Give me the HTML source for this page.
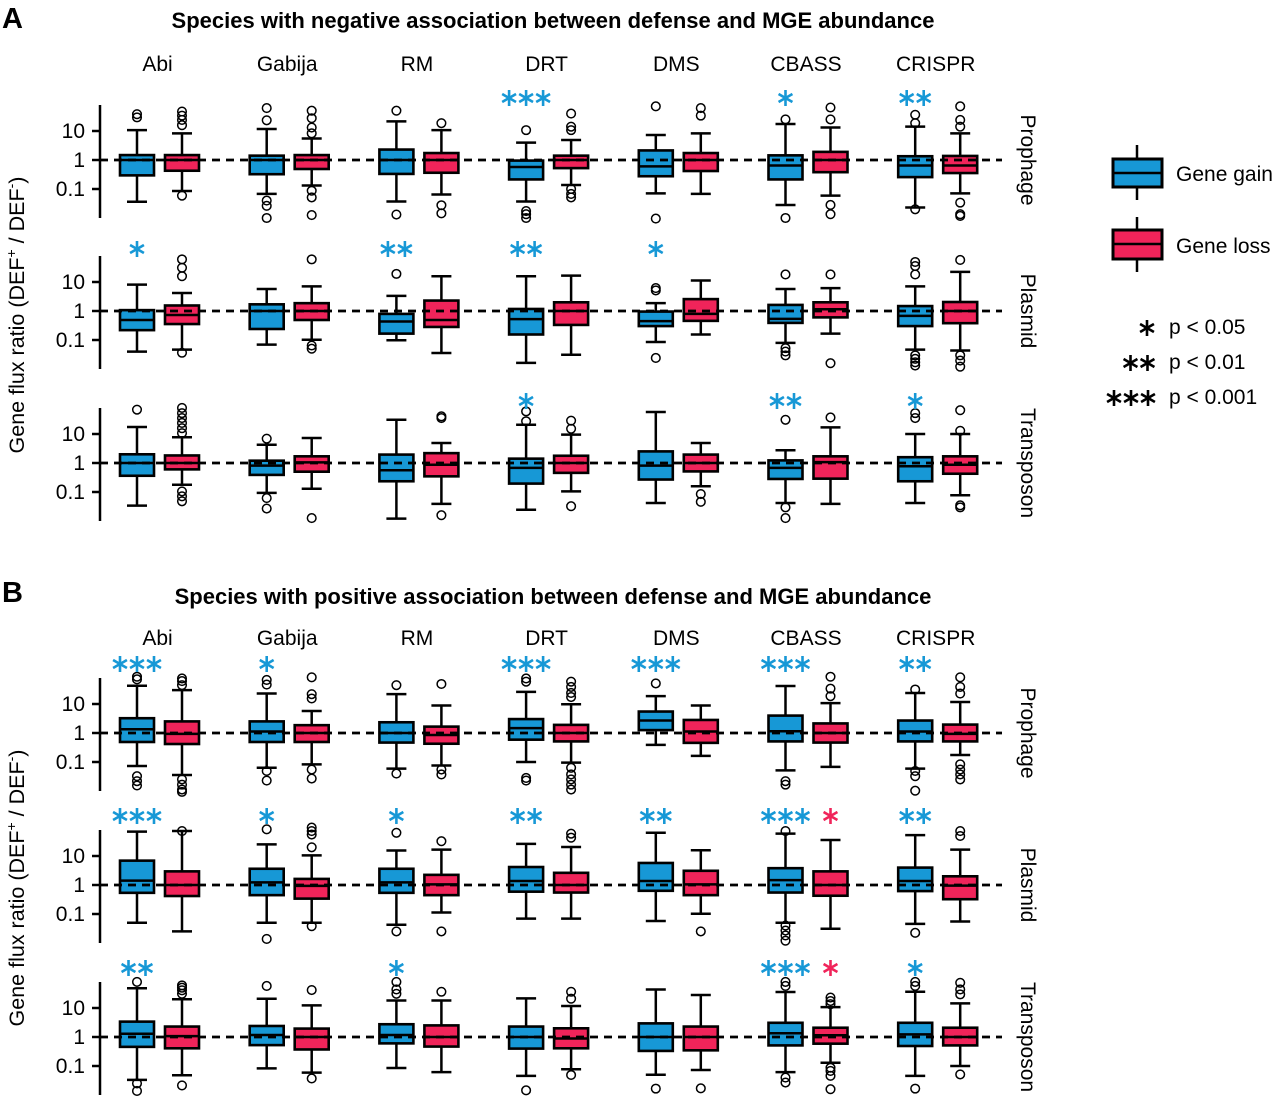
<!DOCTYPE html>
<html><head><meta charset="utf-8"><style>
html,body{margin:0;padding:0;background:#fff;}
svg{display:block;font-family:"Liberation Sans",sans-serif;}
</style></head><body>
<svg id="chart" width="1280" height="1109" viewBox="0 0 1280 1109" xmlns="http://www.w3.org/2000/svg">
<g id="static">
<text x="2" y="28" font-size="29" font-weight="bold">A</text>
<text x="553" y="28" font-size="22" font-weight="bold" text-anchor="middle">Species with negative association between defense and MGE abundance</text>
<text x="2" y="602" font-size="29" font-weight="bold">B</text>
<text x="553" y="604" font-size="22" font-weight="bold" text-anchor="middle">Species with positive association between defense and MGE abundance</text>
<text transform="translate(24,315) rotate(-90)" font-size="21.5" text-anchor="middle">Gene flux ratio (DEF<tspan baseline-shift="super" font-size="14">+</tspan> / DEF<tspan baseline-shift="super" font-size="14">-</tspan>)</text>
<text transform="translate(24,888) rotate(-90)" font-size="21.5" text-anchor="middle">Gene flux ratio (DEF<tspan baseline-shift="super" font-size="14">+</tspan> / DEF<tspan baseline-shift="super" font-size="14">-</tspan>)</text>
<g>
<line x1="1137" y1="145" x2="1137" y2="200" stroke="#000" stroke-width="2.5"/>
<rect x="1113" y="159" width="49" height="28" fill="#1798d6" stroke="#000" stroke-width="3"/>
<line x1="1113" y1="173" x2="1162" y2="173" stroke="#000" stroke-width="2.5"/>
<text x="1176" y="181" font-size="21">Gene gain</text>
<line x1="1137" y1="217" x2="1137" y2="272" stroke="#000" stroke-width="2.5"/>
<rect x="1113" y="230" width="49" height="29" fill="#f0245a" stroke="#000" stroke-width="3"/>
<line x1="1113" y1="244" x2="1162" y2="244" stroke="#000" stroke-width="2.5"/>
<text x="1176" y="253" font-size="21">Gene loss</text>
<text x="1169" y="334" font-size="21">p &lt; 0.05</text>
<text x="1169" y="369" font-size="21">p &lt; 0.01</text>
<text x="1169" y="404" font-size="21">p &lt; 0.001</text>
</g>
</g>
<g id="plot"></g>
</svg>
<script>
const systems = ["Abi","Gabija","RM","DRT","DMS","CBASS","CRISPR"];
const rowNames = ["Prophage","Plasmid","Transposon"];
const tickValues = [1, 0, -1];
const tickLabels = ["10","1","0.1"];
// box stats in log10 units: [whiskerLow, q1, median, q3, whiskerHigh]
const aProGain = [[-1.44,-0.53,0,0.17,1.03],[-1.17,-0.49,0,0.15,1.07],[-1.43,-0.48,0,0.36,1.33],[-1.43,-0.67,-0.24,-0.02,0.6],[-1.15,-0.56,-0.22,0.33,0.86],[-1.55,-0.67,-0.19,0.16,1.24],[-1.64,-0.59,-0.19,0.13,1.15]];
const aProLoss = [[-1.07,-0.37,0,0.17,0.92],[-0.88,-0.31,0,0.17,0.74],[-1.19,-0.44,0,0.24,1.03],[-0.86,-0.28,0,0.15,0.69],[-1.17,-0.38,0,0.24,0.92],[-1.23,-0.42,0,0.28,1.12],[-1.15,-0.45,-0.19,0.14,0.92]];
const aPlaGain = [[-1.4,-0.66,-0.31,0.03,0.91],[-1.16,-0.62,0,0.23,0.76],[-1.01,-0.78,-0.36,-0.1,0.52],[-1.79,-0.81,-0.28,0.07,1.2],[-1.07,-0.52,-0.35,-0.02,0.27],[-1.1,-0.41,-0.27,0.21,0.76],[-1.33,-0.52,-0.17,0.17,0.85]];
const aPlaLoss = [[-1.33,-0.45,-0.14,0.19,0.62],[-0.99,-0.31,0,0.27,0.85],[-1.45,-0.55,-0.31,0.36,1.2],[-1.51,-0.48,0,0.3,1.22],[-0.81,-0.34,-0.1,0.41,1.05],[-0.78,-0.22,0.06,0.3,0.79],[-1.36,-0.42,0,0.31,1.35]];
const aTraGain = [[-1.47,-0.44,0,0.3,1.24],[-1.03,-0.41,-0.09,0.08,0.63],[-1.92,-0.63,-0.25,0.29,1.49],[-1.61,-0.71,-0.17,0.15,1.32],[-1.38,-0.57,-0.09,0.4,1.76],[-1.38,-0.55,-0.17,0.09,0.44],[-1.38,-0.63,-0.11,0.2,1.0]];
const aTraLoss = [[-0.75,-0.22,0,0.26,0.89],[-0.89,-0.3,0.02,0.23,0.86],[-1.41,-0.46,-0.06,0.34,0.69],[-0.98,-0.34,0,0.25,0.98],[-0.8,-0.29,0,0.29,0.69],[-1.41,-0.54,0.03,0.23,1.23],[-1.11,-0.37,-0.06,0.23,1.0]];
const bProGain = [[-1.14,-0.31,0.13,0.51,1.63],[-1.2,-0.31,0.05,0.4,1.36],[-1.23,-0.33,0,0.37,1.34],[-1.0,-0.23,0.17,0.48,1.42],[-0.41,0.1,0.43,0.74,1.27],[-1.29,-0.29,0.06,0.6,1.62],[-1.23,-0.29,0.05,0.43,1.38]];
const bProLoss = [[-1.45,-0.38,-0.03,0.4,1.48],[-1.08,-0.31,0,0.27,0.76],[-1.12,-0.37,-0.07,0.22,0.95],[-1.02,-0.29,0,0.28,0.99],[-0.79,-0.34,0.05,0.45,0.95],[-1.17,-0.33,0,0.33,1.03],[-0.76,-0.29,-0.03,0.29,1.07]];
const bPlaGain = [[-1.3,-0.27,0.15,0.84,1.84],[-1.3,-0.35,0.09,0.56,1.4],[-1.37,-0.27,0.09,0.56,1.19],[-1.16,-0.23,0.14,0.62,1.42],[-1.24,-0.2,0.14,0.76,1.8],[-1.3,-0.26,0.17,0.58,1.77],[-1.34,-0.21,0.14,0.6,1.72]];
const bPlaLoss = [[-1.6,-0.38,0,0.47,1.86],[-1.3,-0.47,-0.03,0.21,1.02],[-0.95,-0.35,0.02,0.35,1.22],[-1.16,-0.26,0,0.42,1.31],[-0.99,-0.35,0.02,0.49,1.2],[-1.51,-0.37,0,0.47,1.55],[-1.26,-0.49,-0.02,0.3,1.22]];
const bTraGain = [[-1.48,-0.34,0.11,0.53,1.68],[-1.08,-0.28,0.07,0.38,1.32],[-1.07,-0.22,0.07,0.44,1.26],[-1.34,-0.4,0,0.36,1.33],[-1.3,-0.48,0,0.47,1.64],[-1.21,-0.29,0.13,0.49,1.55],[-1.34,-0.31,0.09,0.49,1.56]];
const bTraLoss = [[-1.32,-0.39,0.03,0.36,1.3],[-1.23,-0.43,0,0.29,1.09],[-1.21,-0.33,0,0.4,1.26],[-1.11,-0.39,-0.05,0.3,1.07],[-1.14,-0.46,0,0.36,1.45],[-0.89,-0.23,0.06,0.32,1.03],[-1.0,-0.29,0,0.32,1.16]];
// outliers in log10 units
const aProGainOut = [[1.58,1.47],[1.79,1.37,-1.4,-1.58,-2.0],[1.7,-1.88],[1.03,-1.76,-1.87,-2.0],[1.85,-2.02],[1.4,-2.0],[1.56,1.27,-1.7]];
const aProLossOut = [[1.67,1.53,1.38,1.2,-1.23],[1.7,1.44,1.12,0.92,-1.06,-1.29,-1.9],[1.27,-1.56,-1.84],[1.6,1.15,1.03,-1.0,-1.17,-1.29],[1.79,1.53],[1.81,1.4,-1.55,-1.87],[1.85,1.38,1.15,-1.47,-1.87,-1.93]];
const aPlaGainOut = [[],[],[1.28],[],[0.79,0.71,-1.62],[1.26,-1.28,-1.4,-1.53],[1.69,1.55,1.26,-1.53,-1.65,-1.77,-1.88]];
const aPlaLossOut = [[1.78,1.49,1.2,-1.44],[1.78,-1.19,-1.3],[],[],[],[1.26,-1.8],[1.76,-1.53,-1.71,-1.92]];
const aTraGainOut = [[1.84],[0.84,-1.21,-1.57],[],[1.78,1.44],[],[1.49,-1.53,-1.9],[1.72,1.55]];
const aTraLossOut = [[1.9,1.72,1.55,1.38,1.2,1.03,-0.98,-1.15,-1.32],[-1.9],[1.61,1.55,-1.8],[1.46,1.18,-1.49],[-1.07,-1.34],[1.57],[1.82,1.11,-1.46,-1.53]];
const bProGainOut = [[1.94,1.85,-1.49,-1.66,-1.81],[1.83,1.67,-1.31,-1.64],[1.65,-1.4],[1.88,1.77,-1.55,-1.64],[1.71],[-1.66,-1.78],[1.5,-1.31,-1.49,-1.99]];
const bProLossOut = [[1.88,1.79,1.65,-1.6,-1.78,-1.95,-2.03],[1.92,1.34,1.19,-1.26,-1.57],[1.69,-1.26,-1.43],[1.77,1.59,1.38,1.24,-1.2,-1.43,-1.6,-1.78,-1.95],[],[1.94,1.53,1.27],[1.92,1.59,1.36,-1.08,-1.26,-1.43,-1.6]];
const bPlaGainOut = [[],[1.92,-1.86],[1.8,-1.6],[],[],[1.86,-1.4,-1.57,-1.74,-1.92],[-1.65]];
const bPlaLossOut = [[1.86],[1.98,1.86,1.74,1.3,-1.42],[1.51,-1.6],[1.77,1.63],[-1.6],[],[1.86,1.69]];
const bTraGainOut = [[1.9,-1.6,-1.86],[1.76],[1.9,1.64,1.49],[-1.84],[-1.78],[1.9,1.76,-1.4,-1.57],[1.9,1.76,-1.78]];
const bTraLossOut = [[1.78,1.7,1.61,1.49,-1.67],[1.62,-1.43],[1.56],[1.56,1.32,-1.31],[-1.77],[1.36,1.24,1.13,-1.06,-1.17,-1.34,-1.8],[1.87,1.64,1.47,-1.29]];
// significance stars (count of asterisks)
const aProGainStars = [0,0,0,3,0,1,2]; const aProLossStars = [0,0,0,0,0,0,0];
const aPlaGainStars = [1,0,2,2,1,0,0]; const aPlaLossStars = [0,0,0,0,0,0,0];
const aTraGainStars = [0,0,0,1,0,2,1]; const aTraLossStars = [0,0,0,0,0,0,0];
const bProGainStars = [3,1,0,3,3,3,2]; const bProLossStars = [0,0,0,0,0,0,0];
const bPlaGainStars = [3,1,1,2,2,3,2]; const bPlaLossStars = [0,0,0,0,0,1,0];
const bTraGainStars = [2,0,1,0,0,3,1]; const bTraLossStars = [0,0,0,0,0,1,0];

const panels = [
 {id:"a", labelY:71, starOff:62, rows:[
  {y1:160, gain:aProGain, loss:aProLoss, go:aProGainOut, lo:aProLossOut, gs:aProGainStars, ls:aProLossStars},
  {y1:311, gain:aPlaGain, loss:aPlaLoss, go:aPlaGainOut, lo:aPlaLossOut, gs:aPlaGainStars, ls:aPlaLossStars},
  {y1:463, gain:aTraGain, loss:aTraLoss, go:aTraGainOut, lo:aTraLossOut, gs:aTraGainStars, ls:aTraLossStars}]},
 {id:"b", labelY:645, starOff:69, rows:[
  {y1:733, gain:bProGain, loss:bProLoss, go:bProGainOut, lo:bProLossOut, gs:bProGainStars, ls:bProLossStars},
  {y1:885, gain:bPlaGain, loss:bPlaLoss, go:bPlaGainOut, lo:bPlaLossOut, gs:bPlaGainStars, ls:bPlaLossStars},
  {y1:1037, gain:bTraGain, loss:bTraLoss, go:bTraGainOut, lo:bTraLossOut, gs:bTraGainStars, ls:bTraLossStars}]}
];
const NS="http://www.w3.org/2000/svg";
const plot=document.getElementById("plot");
const DEC=29, BW=34, CAP=20;
const xGroup = i => 159.5 + i*129.7;
function mk(tag, attrs, parent){const e=document.createElementNS(NS,tag);for(const k in attrs)e.setAttribute(k,attrs[k]);(parent||plot).appendChild(e);return e;}
function drawStar(cx, cy, color, parent){
  const g=mk("g",{stroke:color,"stroke-width":"2.6","stroke-linecap":"butt"},parent);
  
  
  const r=8;
  for(let a=0;a<3;a++){const t=Math.PI/2+a*Math.PI/3;mk("line",{x1:cx-r*Math.cos(t),y1:cy-r*Math.sin(t),x2:cx+r*Math.cos(t),y2:cy+r*Math.sin(t)},g);}
}
function drawStars(n, cx, cy, color, parent){
  for(let k=0;k<n;k++) drawStar(cx+(k-(n-1)/2)*17, cy, color, parent);
}
function drawBox(s, outs, cx, y, color, name, parent){
  const g=mk("g",{},parent);
  
  
  const [wl,q1,md,q3,wh]=s;
  mk("line",{x1:cx,y1:y(wh),x2:cx,y2:y(wl),stroke:"#000","stroke-width":2.5},g);
  mk("line",{x1:cx-CAP/2,y1:y(wh),x2:cx+CAP/2,y2:y(wh),stroke:"#000","stroke-width":2.5},g);
  mk("line",{x1:cx-CAP/2,y1:y(wl),x2:cx+CAP/2,y2:y(wl),stroke:"#000","stroke-width":2.5},g);
  mk("rect",{x:cx-BW/2,y:y(q3),width:BW,height:y(q1)-y(q3),fill:color,stroke:"#000","stroke-width":2.6},g);
  mk("line",{x1:cx-BW/2,y1:y(md),x2:cx+BW/2,y2:y(md),stroke:"#000","stroke-width":2.5},g);
  outs.forEach(v=>{mk("circle",{cx:cx,cy:y(v),r:4.3,fill:"none",stroke:"#000","stroke-width":1.5},g);});
}
const blue="#1798d6", red="#f0245a";
panels.forEach(p=>{
  const pg=mk("g",{});
  
  
  systems.forEach((s,i)=>{
    const t=mk("text",{x:xGroup(i)-2,y:p.labelY,"font-size":21,"text-anchor":"middle"},pg);
    t.textContent=s;
    
    
  });
  p.rows.forEach((r,ri)=>{
    const y=v=>r.y1-v*DEC;
    const rg=mk("g",{},pg);
    
    
    const ax=mk("line",{x1:100,y1:r.y1-55,x2:100,y2:r.y1+58,stroke:"#000","stroke-width":2.5},rg);
    
    
    tickValues.forEach((tv,ti)=>{
      mk("line",{x1:92,y1:y(tv),x2:100,y2:y(tv),stroke:"#000","stroke-width":2.5},rg);
      const tl=mk("text",{x:85,y:y(tv)+7,"font-size":21,"text-anchor":"end"},rg);
      tl.textContent=tickLabels[ti];
      
      
    });
    systems.forEach((s,i)=>{
      const cb=xGroup(i)-22.5, cr=xGroup(i)+22.5;
      drawBox(r.gain[i], r.go[i], cb, y, blue, 'box-gain-'+s.toLowerCase(), rg);
      drawBox(r.loss[i], r.lo[i], cr, y, red, 'box-loss-'+s.toLowerCase(), rg);
      drawStars(r.gs[i], cb, r.y1-p.starOff, blue, rg);
      drawStars(r.ls[i], cr, r.y1-p.starOff, red, rg);
    });
    const dl=mk("line",{x1:100,y1:r.y1,x2:1002,y2:r.y1,stroke:"#000","stroke-width":2.8,"stroke-dasharray":"8 6"},rg);
    
    
    const rl=mk("text",{transform:`translate(1021,${r.y1}) rotate(90)`,"font-size":21,"text-anchor":"middle"},rg);
    rl.textContent=rowNames[ri];
    
    
  });
});
// legend asterisks
const lg=document.getElementById("static");
drawStars(1,1147,328,"#000",lg);
drawStars(2,1139,363,"#000",lg);
drawStars(3,1131,398,"#000",lg);
</script>
</body></html>
